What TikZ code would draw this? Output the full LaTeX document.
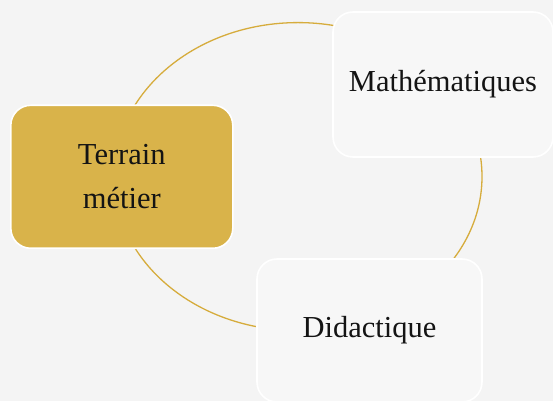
\documentclass[tikz,border=0pt]{standalone}
\usepackage{fontspec}
\setmainfont{Liberation Serif}
\definecolor{paper}{RGB}{244,244,244}
\definecolor{cardfill}{RGB}{247,247,247}
\definecolor{gold}{RGB}{217,179,74}
\definecolor{ring}{RGB}{214,172,60}
\definecolor{ink}{RGB}{20,20,20}
\begin{document}
\begin{tikzpicture}[x=1pt,y=1pt,
  card/.style={draw=white, line width=1.6pt, rounded corners=20pt,
    minimum width=222pt, minimum height=143pt, align=center, text=ink,
    font=\fontsize{30.5}{44}\selectfont},
  whitecard/.style={card, fill=cardfill},
  goldcard/.style={card, fill=gold},
  ringline/.style={draw=ring, line width=1.3pt}]
  % canvas
  \fill[paper] (0,0) rectangle (553,401);
  \useasboundingbox (0,0) rectangle (553,401);
  % cycle ring running behind the cards
  \coordinate (hub) at (298,224.4);
  \draw[ringline] (hub) ellipse [x radius=184, y radius=154];
  % cards
  \node[goldcard]  (terrain) at (121.8,224.2) {Terrain\\métier};
  \node[whitecard, minimum width=220pt, minimum height=145pt] (maths) at (443,316.5) {Mathématiques};
  \node[whitecard, minimum width=225pt] (dida) at (369.5,70.5) {Didactique};
\end{tikzpicture}
\end{document}
